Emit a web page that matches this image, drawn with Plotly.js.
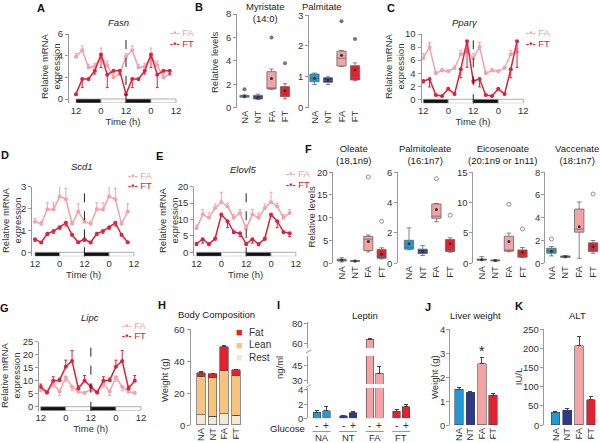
<!DOCTYPE html>
<html>
<head>
<meta charset="utf-8">
<script src="https://cdn.plot.ly/plotly-3.0.1.min.js"></script>
<style>body{margin:0}#chart{width:600px;height:443px}</style>
</head>
<body>
<div id="chart"></div>
<script>
var W=600,H=443;
var FONT="Liberation Sans, Arial, sans-serif";
var cFA="#f4a1aa",cFT="#e2203a",cNA="#1f9ad6",cNT="#2b3a8f";
var groups=["NA","NT","FA","FT"];
var groupColors=[cNA,cNT,"#f3a3a6","#e4222f"];

// time course, sampled every 3 h over one day (double plotted)
var hours=[0,3,6,9,12,15,18,21];
var fasnFA=[3.9,4.5,2.9,3.0,3.9,3.1,2.0,2.3];
var fasnFAerr=[0.3,0.4,0.3,0.3,0.8,0.4,0.3,0.3];
var fasnFT=[0.45,1.85,1.85,2.6,4.1,2.25,2.6,2.6];
var fasnFTerr=[0.1,0.8,0.1,0.3,1.2,1.2,0.1,0.3];
var pparFA=[6.3,8.0,4.0,4.4,4.3,4.8,6.9,7.3];
var pparFAerr=[0.7,0.7,0.3,0.3,0.2,0.3,0.6,0.5];
var pparFT=[2.8,3.1,0.65,0.5,1.6,0.8,4.6,8.9];
var pparFTerr=[0.3,1.2,0.1,0.1,0.1,0.1,1.3,4.0];
var scdFA=[1.4,1.3,1.97,1.96,2.55,2.43,1.3,1.87];
var scdFAerr=[0.15,0.1,0.3,0.3,0.45,0.5,0.1,0.35];
var scdFT=[0.6,0.45,0.85,0.97,1.15,1.35,0.8,0.46];
var scdFTerr=[0.1,0.05,0.08,0.1,0.1,0.15,0.05,0.05];
var elovlFA=[7.3,11.5,10.5,13.5,15.3,14.0,10.5,12.0];
var elovlFAerr=[1,1.5,1.5,1.2,3,1,1,1];
var elovlFT=[2.6,4.0,2.5,4.2,11.5,9.5,6.2,5.8];
var elovlFTerr=[0.5,1.2,0.5,0.5,0.5,2.0,0.5,1.0];
var lipcFA=[6.5,5.5,9.0,5.8,11.3,7.7,5.8,5.4];
var lipcFAerr=[0.5,0.5,1.5,1.5,1.5,1.5,0.5,0.5];
var lipcFT=[7.7,5.5,10.0,10.2,15.4,17.6,7.0,10.0];
var lipcFTerr=[1.0,0.5,1.5,0.8,2.5,4.0,1.0,2.0];

// box stats per group: [lower whisker, q1, median, q3, upper whisker, mean]
var myristate=[[0.85,0.9,1.0,1.05,1.1,0.98],[0.7,0.75,0.9,1.05,1.15,0.9],[1.57,1.6,1.65,3.08,3.3,2.5],[0.75,0.94,1.05,1.8,2.05,1.45]];
var myristateOut=[[0,1.57],[2,6.0],[3,3.8]];
var palmitate=[[0.75,0.84,0.95,1.09,1.12,0.95],[0.75,0.82,0.88,0.97,1.0,0.88],[1.33,1.35,1.6,1.83,1.85,1.7],[0.87,0.9,0.98,1.36,1.45,1.22]];
var palmitateOut=[[2,2.8],[3,2.22]];
var oleate=[[0.3,0.5,0.7,0.9,1.2,0.7],[0.35,0.4,0.5,0.6,0.65,0.5],[2.5,2.8,5.3,5.9,6.2,4.8],[0.95,1.1,1.45,3.05,3.4,2.0]];
var oleateOut=[[2,18.9],[3,9.2]];
var palmitoleate=[[0.89,0.93,1.05,1.51,2.33,1.29],[0.51,0.64,0.78,0.93,1.16,0.78],[2.73,2.96,3.1,3.9,3.93,3.53],[0.73,0.78,0.8,1.56,1.67,1.29]];
var palmitoleateOut=[[2,5.56],[3,3.16]];
var eicosenoate=[[0.45,0.5,0.6,0.7,1.1,0.6],[0.35,0.4,0.45,0.55,0.6,0.47],[1.9,2.0,2.1,4.45,4.95,3.57],[0.95,1.0,1.2,2.2,2.6,1.8]];
var eicosenoateOut=[[2,9.7],[3,5.66]];
var vaccenate=[[0.65,0.88,1.1,1.32,1.47,1.05],[0.5,0.52,0.58,0.65,0.68,0.58],[0.44,2.73,2.99,4.75,5.37,3.2],[0.88,1.03,1.32,1.79,2.0,1.45]];
var vaccenateOut=[[0,2.14],[3,6.07]];

// body composition (g)
var rest=[6.3,5.6,7.2,6.0], restErr=[0.3,0.3,0.5,0.3];
var lean=[24.3,23.9,26.8,25.0], leanErr=[0.5,0.5,0.8,0.5];
var fat=[2.3,2.5,15.0,3.5], fatErr=[0.4,0.5,0.7,0.5];
// leptin ng/ml, glucose - / + per group
var glucose=["-","+"];
var leptin=[0.85,1.07,0.35,0.8,64,36.7,1.0,1.6];
var leptinErr=[0.25,0.6,0.05,0.1,0.7,6.6,0.3,0.3];
var liver=[1.5,1.37,2.56,1.25], liverErr=[0.05,0.04,0.28,0.05];
var alt=[33,39,207,66], altErr=[1.5,4,23,9];

var data=[];
var layout={width:W,height:H,margin:{l:0,r:0,t:0,b:0},paper_bgcolor:"white",plot_bgcolor:"rgba(0,0,0,0)",
  font:{family:FONT,size:9.5,color:"#333"},barmode:"stack",boxmode:"overlay",shapes:[],annotations:[],showlegend:false};

function yStyle(){return {showline:true,linecolor:"#999",linewidth:1,ticks:"outside",ticklen:3,tickcolor:"#999",showgrid:false,zeroline:false,
  showticklabels:true,ticklabeloverflow:"allow",tickfont:{size:9.5,color:"#333"}};}
function xStyle(){return {showline:false,ticks:"",showgrid:false,zeroline:false,ticklabeloverflow:"allow",tickfont:{size:9.5,color:"#333"}};}

function ax(n){return n==1?"":String(n);}
function note(x,y,t,o){
  var a={xref:"paper",yref:"paper",x:x/W,y:1-y/H,text:t,showarrow:false,xanchor:"center",yanchor:"middle",font:{size:9.5,color:"#222"}};
  return Object.assign(a,o||{});
}
function ytitle(x,y,t){layout.annotations.push(note(x,y,t,{textangle:-90,font:{size:9.5,color:"#333"}}));}
function zeros(a){return a.map(function(){return 0;});}
function twice(a){return a.concat(a);}
// y tick labels as text beside the axis; placed with the same linear map as the axis (domain top/bottom <-> range)
function tickText(axisPx,vals,topPx,botPx,r0,r1){
  vals.forEach(function(v){
    var py=topPx+(r1-v)/(r1-r0)*(botPx-topPx);
    layout.annotations.push(note(axisPx-4.5,py,String(v),{xanchor:"right",borderpad:0,font:{size:9.5,color:"#333"}}));
  });
}

function timePanel(n,g,fa,faErr,faDir,ft,ftErr,ftDir){
  var k=ax(n),s=(g.zero-g.top)/g.ymax,ymin=-4/s;
  layout["xaxis"+k]=Object.assign(xStyle(),{domain:[g.axis/W,(g.x0+48.5*g.pph)/W],range:[(g.axis-g.x0)/g.pph,48.5],anchor:"y"+k,
    tickmode:"array",tickvals:[0,12,24,36,48],ticktext:["12","0","12","0","12"],title:{text:"Time (h)",font:{size:9.5},standoff:3}});
  layout["yaxis"+k]=Object.assign(yStyle(),{domain:[1-(g.zero+4)/H,1-g.top/H],range:[ymin,g.ymax],tickmode:"linear",tick0:0,dtick:g.dtick,anchor:"x"+k});
  [[0,12,"#111"],[12,24,"white"],[24,36,"#111"],[36,48,"white"]].forEach(function(b){
    layout.shapes.push({type:"rect",xref:"x"+k,yref:"y"+k,x0:b[0],x1:b[1],y0:ymin,y1:0,fillcolor:b[2],line:{color:"#999",width:0.8}});
  });
  layout.shapes.push({type:"line",xref:"x"+k,yref:"y"+k+" domain",x0:24,x1:24,y0:0,y1:1,line:{color:"#222",width:1,dash:"dash"}});
  var xs=hours.concat(hours.map(function(h){return h+24;}));
  [[fa,faErr,faDir,cFA],[ft,ftErr,ftDir,cFT]].forEach(function(t){
    data.push({type:"scatter",mode:"lines+markers",x:xs,y:twice(t[0]),xaxis:"x"+k,yaxis:"y"+k,
      line:{color:t[3],width:1.5},marker:{size:4,color:t[3]},showlegend:false,hoverinfo:"skip",
      error_y:{type:"data",symmetric:false,array:t[2]=="up"?twice(t[1]):twice(zeros(t[1])),arrayminus:t[2]=="down"?twice(t[1]):twice(zeros(t[1])),
        color:t[3],thickness:1,width:1.5}});
  });
  layout.annotations.push(note(g.title[0],g.title[1],"<i>"+g.name+"</i>"));
  layout.annotations.push(note(g.leg[0],g.leg[1],"<b>-•-</b> FA",{xanchor:"left",font:{size:9.5,color:cFA}}));
  layout.annotations.push(note(g.leg[0],g.leg[2],"<b>-•-</b> FT",{xanchor:"left",font:{size:9.5,color:cFT}}));
  ytitle(g.yt[0],g.yt[1],"Relative mRNA<br>expression");
}

function catAxes(n,g){
  var k=ax(n);
  layout["xaxis"+k]=Object.assign(xStyle(),{domain:[g.axis/W,(g.c0+g.right*g.sp)/W],range:[(g.axis-g.c0)/g.sp,g.right],anchor:"y"+k,
    tickmode:"array",tickvals:[0,1,2,3],ticktext:groups,tickangle:-90});
  layout["yaxis"+k]=Object.assign(yStyle(),{domain:[1-g.zero/H,1-g.top/H],range:[0,g.ymax],tickmode:"linear",tick0:0,dtick:g.dtick,anchor:"x"+k,showticklabels:false});
  var vals=[];
  for(var v=0;v<=g.ymax+1e-9;v+=g.dtick) vals.push(v);
  tickText(g.axis,vals,g.top,g.zero,0,g.ymax);
  return k;
}

function boxPanel(n,g,rows,outs,solid){
  g.right=3.5;
  var k=catAxes(n,g);
  rows.forEach(function(r,i){
    data.push({type:"box",x:[i],lowerfence:[r[0]],q1:[r[1]],median:[r[2]],q3:[r[3]],upperfence:[r[4]],xaxis:"x"+k,yaxis:"y"+k,
      fillcolor:groupColors[i],line:{color:"#666",width:0.8},width:0.68,whiskerwidth:0.5,boxpoints:false,showlegend:false,hoverinfo:"skip"});
  });
  data.push({type:"scatter",mode:"markers",x:[0,1,2,3],y:rows.map(function(r){return r[5];}),xaxis:"x"+k,yaxis:"y"+k,
    marker:{size:3,color:"#333"},showlegend:false,hoverinfo:"skip"});
  data.push({type:"scatter",mode:"markers",x:outs.map(function(o){return o[0];}),y:outs.map(function(o){return o[1];}),xaxis:"x"+k,yaxis:"y"+k,
    marker:solid?{size:4,color:"#777"}:{size:4,color:"white",line:{color:"#777",width:0.8}},showlegend:false,hoverinfo:"skip",cliponaxis:false});
  layout.annotations.push(note(g.title[0],g.title[1],g.name));
}

function barPanel(n,g,vals,errs,name){
  var k=catAxes(n,g);
  data.push({type:"bar",x:[0,1,2,3],y:vals,width:0.74,xaxis:"x"+k,yaxis:"y"+k,marker:{color:groupColors,line:{color:"#444",width:0.6}},
    error_y:{type:"data",array:errs,symmetric:false,arrayminus:zeros(errs),color:"#444",thickness:1,width:2},showlegend:false,hoverinfo:"skip"});
  layout.annotations.push(note(g.title[0],g.title[1],name));
}

// A, C, D, E, G time courses
timePanel(1,{axis:69,x0:76,pph:2.083,top:34,zero:99,ymax:6,dtick:2,name:"Fasn",title:[118,22],leg:[168,32,43],yt:[50,66]},fasnFA,fasnFAerr,"up",fasnFT,fasnFTerr,"down");
timePanel(4,{axis:421.5,x0:423.3,pph:2.083,top:34,zero:99.3,ymax:10,dtick:2,name:"Ppar\u03b3",title:[465,22],leg:[524,32,43],yt:[394,66]},pparFA,pparFAerr,"up",pparFT,pparFTerr,"down");
timePanel(5,{axis:32.3,x0:35,pph:2.06,top:186.7,zero:252.3,ymax:3,dtick:1,name:"Scd1",title:[82,167],leg:[126,175,185.5],yt:[12,220]},scdFA,scdFAerr,"up",scdFT,scdFTerr,"down");
timePanel(6,{axis:194.3,x0:196.5,pph:2.07,top:186.7,zero:252.3,ymax:20,dtick:5,name:"Elovl5",title:[243,169],leg:[284,173.5,184],yt:[169,220]},elovlFA,elovlFAerr,"up",elovlFT,elovlFTerr,"down");
timePanel(11,{axis:39.3,x0:40.7,pph:2.09,top:341.7,zero:406.7,ymax:25,dtick:5,name:"Lipc",title:[90,317],leg:[120,325,335.5],yt:[10,375]},lipcFA,lipcFAerr,"down",lipcFT,lipcFTerr,"up");

// B, F boxes
boxPanel(2,{axis:236.7,c0:244.5,sp:13.5,top:14,zero:107.7,ymax:8,dtick:2,name:"Myristate<br>(14:0)",title:[265,12.5]},myristate,myristateOut,true);
boxPanel(3,{axis:308.5,c0:314.5,sp:13.5,top:15,zero:107.7,ymax:3,dtick:1,name:"Palmitate",title:[322,7]},palmitate,palmitateOut,true);
boxPanel(7,{axis:333.3,c0:341.7,sp:13.3,top:172,zero:263.3,ymax:20,dtick:5,name:"Oleate<br>(18,1n9)",title:[353,154.5]},oleate,oleateOut,false);
boxPanel(8,{axis:397.7,c0:409,sp:13.7,top:172,zero:263.3,ymax:6,dtick:2,name:"Palmitoleate<br>(16:1n7)",title:[425,154.5]},palmitoleate,palmitoleateOut,false);
boxPanel(9,{axis:473.3,c0:481.7,sp:13.6,top:172,zero:263.3,ymax:15,dtick:5,name:"Eicosenoate<br>(20:1n9 or 1n11)",title:[502.7,154.5]},eicosenoate,eicosenoateOut,false);
boxPanel(10,{axis:545,c0:551.7,sp:14.4,top:172,zero:263.3,ymax:8,dtick:2,name:"Vaccenate<br>(18:1n7)",title:[576.7,154.5]},vaccenate,vaccenateOut,false);
ytitle(214,63,"Relative levels");
ytitle(310.5,217,"Relative levels");

// H body composition
catAxes(12,{axis:190.7,c0:201,sp:11.6,right:3.5,top:329.3,zero:425,ymax:60,dtick:20});
var comp=[["Rest",rest,restErr,"#efead6"],["Lean",lean,leanErr,"#f8c27f"],["Fat",fat,fatErr,"#e4222f"]];
comp.forEach(function(t,i){
  data.push({type:"bar",name:t[0],x:[0,1,2,3],y:t[1],width:0.74,xaxis:"x12",yaxis:"y12",marker:{color:t[3],line:{color:"#444",width:0.6}},
    error_y:{type:"data",array:t[2],symmetric:false,arrayminus:zeros(t[2]),color:"#444",thickness:1,width:2},showlegend:false,hoverinfo:"skip"});
  var yy=357-i*12.5;
  layout.annotations.push(note(234,yy,"<span style='color:"+t[3]+"'>\u25a0</span>",{xanchor:"left",font:{size:11,color:"#444"}}));
  layout.annotations.push(note(247,yy,t[0],{xanchor:"left",font:{size:10,color:"#333"}}));
});
layout.annotations.push(note(216,314,"Body Composition"));
ytitle(164,380,"Weight (g)");

// I leptin, broken axis: three stacked subplots with the same x scale
var lepX=leptin.map(function(v,i){return Math.floor(i/2)*2.8+(i%2);});
var seg=[[13,388,418.3,[0,4.28],[0,2,4]],[14,356,384,[26,54],[30,45]],[15,322,348,[55.3,81.3],[60,80]]];
seg.forEach(function(sg){
  var k=ax(sg[0]);
  layout["xaxis"+k]=Object.assign(xStyle(),{domain:[308.3/W,411.7/W],range:[-0.9,10],anchor:"y"+k,showticklabels:false});
  layout["yaxis"+k]=Object.assign(yStyle(),{domain:[1-sg[2]/H,1-sg[1]/H],range:sg[3],tickmode:"array",tickvals:sg[4],anchor:"x"+k,showticklabels:false});
  tickText(308.3,sg[4],sg[1],sg[2],sg[3][0],sg[3][1]);
  data.push({type:"bar",x:lepX,y:leptin,width:0.8,xaxis:"x"+k,yaxis:"y"+k,
    marker:{color:lepX.map(function(v,i){return groupColors[Math.floor(i/2)];}),line:{color:"#444",width:0.6}},
    error_y:{type:"data",array:leptinErr,symmetric:false,arrayminus:zeros(leptin),color:"#444",thickness:1,width:2},showlegend:false,hoverinfo:"skip"});
});
lepX.forEach(function(x,i){
  layout.annotations.push({xref:"x13",yref:"paper",x:x,y:1-425.5/H,yanchor:"middle",text:glucose[i%2],showarrow:false,font:{size:10,color:"#333"}});
});
groups.forEach(function(gname,gi){
  layout.shapes.push({type:"line",xref:"x13",yref:"paper",x0:gi*2.8-0.45,x1:gi*2.8+1.45,y0:1-431.5/H,y1:1-431.5/H,line:{color:"#999",width:1}});
  layout.annotations.push({xref:"x13",yref:"paper",x:gi*2.8+0.5,y:1-437.5/H,yanchor:"middle",text:gname,showarrow:false,font:{size:9.5,color:"#333"}});
});
[351.5,386].forEach(function(py){
  layout.shapes.push({type:"line",xref:"paper",yref:"paper",x0:306/W,x1:311/W,y0:1-(py+1.5)/H,y1:1-(py-1.5)/H,line:{color:"#999",width:1}});
});
layout.annotations.push(note(287,428,"Glucose"));
ytitle(279,368,"ng/ml");
layout.annotations.push(note(365,315,"Leptin"));

// J, K
barPanel(16,{axis:450,c0:459,sp:11.4,right:3.5,top:329.3,zero:425,ymax:4,dtick:1,title:[475,315]},liver,liverErr,"Liver weight");
barPanel(17,{axis:544.3,c0:555.5,sp:11.8,right:3.4,top:329.3,zero:425,ymax:250,dtick:50,title:[577,315]},alt,altErr,"ALT");
ytitle(434,377,"Weight (g)");
ytitle(518.5,376.7,"IU/L");
layout.annotations.push({xref:"x16",yref:"y16",x:2,y:liver[2]+liverErr[2]+0.25,text:"*",showarrow:false,font:{size:14,color:"#222"}});

// panel letters
[["A",41,8],["B",199,7],["C",391,8],["D",5,155],["E",159,156],["F",308,149],["G",4,308],["H",162,305],["I",278,305],["J",428,307],["K",519,306]].forEach(function(p){
  layout.annotations.push(note(p[1],p[2],"<b>"+p[0]+"</b>",{font:{size:11,color:"#111"}}));
});

Plotly.newPlot("chart",data,layout,{staticPlot:true});
</script>
</body>
</html>
